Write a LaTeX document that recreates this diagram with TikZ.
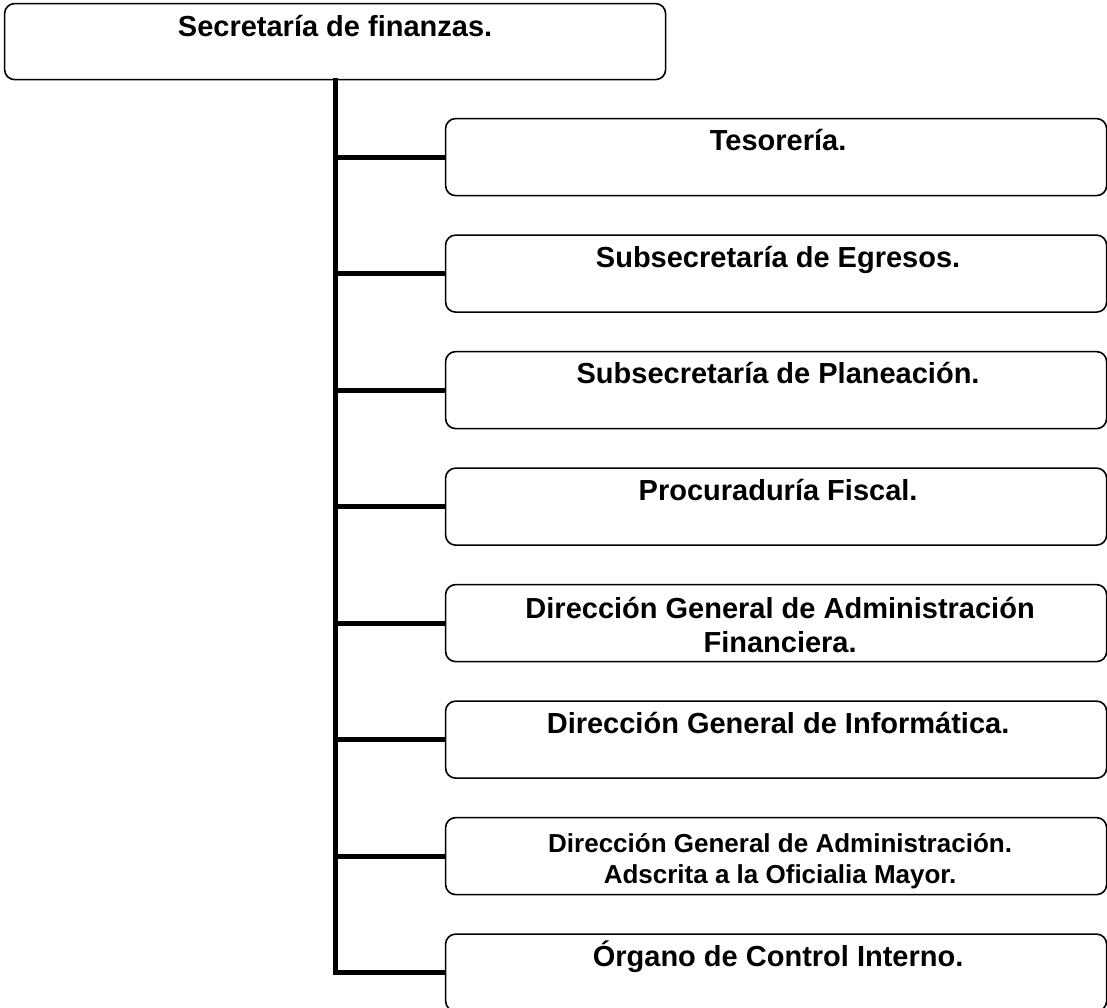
\documentclass[tikz,border=0pt]{standalone}
\usepackage{fontspec}
\setmainfont{Liberation Sans}
\begin{document}
\begin{tikzpicture}[x=1pt,y=-1pt,
  box/.style={draw, line width=1.6pt, rounded corners=10pt, minimum width=661pt, minimum height=77pt, inner sep=0pt, anchor=north west},
  lbl/.style={font=\bfseries\fontsize{29}{34}\selectfont, anchor=base, inner sep=0pt, align=center},
  small/.style={font=\bfseries\fontsize{26}{30.5}\selectfont},
  link/.style={line width=5pt}]
\useasboundingbox (0,0) rectangle (1107,1007);
\clip (0,0) rectangle (1107,1007);
% top box
\node[box, minimum width=661pt, minimum height=76pt] (top) at (3.8,2.8) {};
\node[lbl] (topt) at ([yshift=-34pt]top.north) {Secretaría de finanzas.};
% child boxes
\node[box] (b1) at (444.8,117.8) {};
\node[box] (b2) at (444.8,234.3) {};
\node[box] (b3) at (444.8,350.8) {};
\node[box] (b4) at (444.8,467.3) {};
\node[box] (b5) at (444.8,583.8) {};
\node[box] (b6) at (444.8,700.3) {};
\node[box] (b7) at (444.8,816.8) {};
\node[box] (b8) at (444.8,933.3) {};
\node[lbl] (t1) at ([xshift=2pt,yshift=-33pt]b1.north) {Tesorería.};
\node[lbl] (t2) at ([xshift=2pt,yshift=-33pt]b2.north) {Subsecretaría de Egresos.};
\node[lbl] (t3) at ([xshift=2pt,yshift=-33pt]b3.north) {Subsecretaría de Planeación.};
\node[lbl] (t4) at ([xshift=2pt,yshift=-33pt]b4.north) {Procuraduría Fiscal.};
\node[lbl] (t5) at ([xshift=4pt,yshift=-69pt]b5.north) {Dirección General de Administración\\Financiera.};
\node[lbl] (t6) at ([xshift=2pt,yshift=-33pt]b6.north) {Dirección General de Informática.};
\node[lbl,small] (t7) at ([xshift=4pt,yshift=-66.5pt]b7.north) {Dirección General de Administración.\\Adscrita a la Oficialia Mayor.};
\node[lbl] (t8) at ([xshift=2pt,yshift=-33pt]b8.north) {Órgano de Control Interno.};
% connectors
\coordinate (trunk) at (335,78);
\draw[link] (trunk) -- (trunk |- b8.west) -- (b8.west);
\foreach \b in {b1,b2,b3,b4,b5,b6,b7}
  \draw[link] (trunk |- \b.west) -- (\b.west);
\end{tikzpicture}
\end{document}
